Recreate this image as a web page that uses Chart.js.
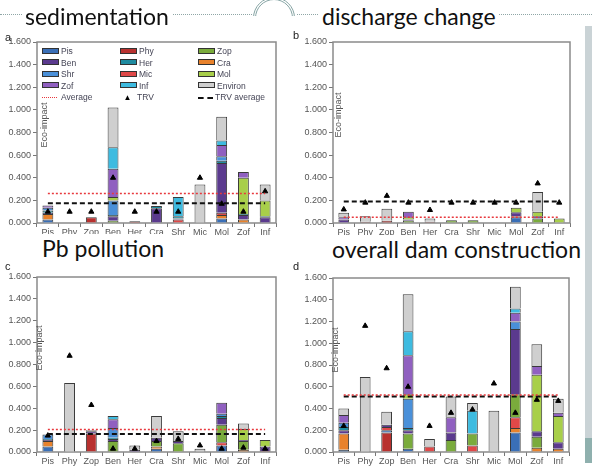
<!DOCTYPE html>
<html>
<head>
<meta charset="utf-8">
<script src="https://cdn.jsdelivr.net/npm/chart.js@4.4.0/dist/chart.umd.min.js"></script>
<style>
body { margin: 0; background: #fff; width: 592px; height: 470px; overflow: hidden; position: relative; font-family: "Liberation Sans", Arial, sans-serif; }
.box { position: absolute; }
.title { position: absolute; font-family: Lato, sans-serif; font-size: 23px; line-height: 28px; color: #111; background: #fff; padding: 0 3px; white-space: nowrap; }
.letter { position: absolute; font-size: 11px; color: #222; }
.ylab { position: absolute; width: 54px; height: 10px; line-height: 10px; text-align: center; font-size: 9px; color: #555; transform: rotate(-90deg); white-space: nowrap; }
#dots { position: absolute; left: 0; top: 14px; width: 592px; border-top: 1px dotted #8fa6a6; }
#arch { position: absolute; left: 252px; top: 0; width: 44px; height: 16px; overflow: hidden; background: #fff; }
#arch div { position: absolute; left: 1px; top: -3px; width: 36px; height: 36px; border: 3px double #86a4a4; border-radius: 50%; }
#sidebar { position: absolute; left: 585px; top: 26px; width: 7px; height: 412px; background: #cad3d6; }
#sidefoot { position: absolute; left: 585px; top: 438px; width: 7px; height: 25px; background: #8fb0ae; }
#legend { position: absolute; left: 0; top: 0; font-size: 8.5px; color: #445; }
.li { position: absolute; height: 10px; line-height: 10px; white-space: nowrap; }
.sw { display: inline-block; width: 15px; height: 4px; border: 1px solid #333; vertical-align: middle; margin-right: 2px; margin-top: -2px; }
</style>
</head>
<body>
<div id="dots"></div>
<div id="arch"><div></div></div>
<div id="sidebar"></div>
<div id="sidefoot"></div>

<div class="box" style="left:0;top:34px;width:284px;height:206px"><canvas id="chartA"></canvas></div>
<div class="box" style="left:296px;top:34px;width:282px;height:206px"><canvas id="chartB"></canvas></div>
<div class="box" style="left:0;top:268px;width:284px;height:201px"><canvas id="chartC"></canvas></div>
<div class="box" style="left:296px;top:268px;width:281px;height:201px"><canvas id="chartD"></canvas></div>

<div id="legend"></div>

<div class="title" style="left:22px;top:2px">sedimentation</div>
<div class="title" style="left:319px;top:2px">discharge change</div>
<div class="title" style="left:39px;top:234px">Pb pollution</div>
<div class="title" style="left:329px;top:235px">overall dam construction</div>

<div class="letter" style="left:5px;top:31px">a</div>
<div class="letter" style="left:293px;top:29px">b</div>
<div class="letter" style="left:5px;top:260px">c</div>
<div class="letter" style="left:293px;top:260px">d</div>

<div class="ylab" style="left:17px;top:120px">Eco-impact</div>
<div class="ylab" style="left:311px;top:110px">Eco-impact</div>
<div class="ylab" style="left:12px;top:343px">Eco-impact</div>
<div class="ylab" style="left:308px;top:345px">Eco-impact</div>

<script>
// categories on the x axis
const categories = ['Pis', 'Phy', 'Zop', 'Ben', 'Her', 'Cra', 'Shr', 'Mic', 'Mol', 'Zof', 'Inf'];
// stacked groups (rows of each panel array below, in this order)
const seriesNames = ['Pis', 'Phy', 'Zop', 'Ben', 'Her', 'Cra', 'Shr', 'Mic', 'Mol', 'Zof', 'Inf', 'Environ'];
const seriesColors = ['#3a6fb7', '#b8312f', '#7aab3c', '#5b3a8e', '#1f8ba0', '#e8822c',
                      '#4a90d9', '#e04848', '#a8cf4a', '#9060c0', '#3ebbe0', '#cfcfcf'];
// bottom -> top order used when stacking
const stackOrder = ['Phy', 'Pis', 'Cra', 'Mic', 'Zop', 'Ben', 'Her', 'Shr', 'Mol', 'Zof', 'Inf', 'Environ'];

// a - sedimentation
const sedValues = [
    [0.03, 0, 0, 0, 0, 0, 0, 0, 0.04, 0, 0],          // Pis
    [0, 0, 0.05, 0, 0.015, 0, 0, 0, 0, 0, 0],         // Phy
    [0, 0, 0, 0.02, 0, 0, 0, 0, 0, 0, 0],             // Zop
    [0.01, 0, 0, 0.04, 0, 0.13, 0.01, 0, 0.44, 0.04, 0.05], // Ben
    [0.02, 0, 0, 0.01, 0, 0.02, 0.02, 0, 0.02, 0.01, 0.01], // Her
    [0.05, 0, 0, 0, 0, 0, 0, 0, 0.03, 0.03, 0],       // Cra
    [0.025, 0, 0, 0.13, 0, 0, 0, 0, 0.04, 0, 0],      // Shr
    [0, 0, 0, 0, 0, 0, 0.03, 0, 0.02, 0, 0],          // Mic
    [0, 0, 0, 0.03, 0, 0, 0, 0, 0, 0.32, 0.14],       // Mol
    [0.02, 0, 0, 0.25, 0, 0, 0, 0, 0.1, 0.05, 0],     // Zof
    [0, 0, 0, 0.19, 0, 0, 0.17, 0, 0.04, 0, 0],       // Inf
    [0, 0, 0, 0.35, 0, 0, 0, 0.34, 0.21, 0, 0.14]     // Environ
];
const sedTRV = [0.10, 0.10, 0.10, 0.40, 0.10, 0.10, 0.10, 0.40, 0.17, 0.10, 0.28];
const sedAverage = 0.26;
const sedTRVAverage = 0.175;

// b - discharge change
const disValues = [
    [0, 0, 0, 0, 0, 0, 0, 0, 0.05, 0, 0],
    [0, 0.01, 0.02, 0, 0.01, 0, 0, 0, 0, 0, 0],
    [0, 0, 0, 0.02, 0, 0.025, 0.025, 0, 0, 0.04, 0],
    [0.03, 0, 0, 0.01, 0, 0, 0, 0, 0.035, 0.02, 0],
    [0, 0, 0, 0, 0, 0, 0, 0, 0, 0, 0],
    [0, 0, 0, 0, 0, 0, 0, 0, 0, 0, 0],
    [0, 0, 0, 0, 0, 0, 0, 0, 0, 0, 0],
    [0, 0, 0, 0, 0, 0, 0, 0, 0.01, 0, 0],
    [0, 0, 0, 0.02, 0, 0, 0, 0, 0.04, 0.04, 0.04],
    [0.02, 0, 0, 0.05, 0, 0, 0, 0, 0, 0, 0],
    [0, 0, 0, 0, 0, 0, 0, 0, 0, 0, 0],
    [0.04, 0.05, 0.105, 0, 0.03, 0, 0, 0, 0, 0.175, 0]
];
const disTRV = [0.12, 0.18, 0.24, 0.18, 0.115, 0.18, 0.18, 0.18, 0.18, 0.35, 0.18];
const disAverage = 0.05;
const disTRVAverage = 0.19;

// c - Pb pollution
const pbValues = [
    [0.05, 0, 0, 0, 0, 0.03, 0, 0, 0.06, 0, 0],
    [0, 0, 0.17, 0, 0, 0, 0, 0, 0, 0, 0.01],
    [0, 0, 0, 0.1, 0, 0.05, 0.08, 0, 0.16, 0.08, 0],
    [0.01, 0, 0.02, 0.02, 0.02, 0.03, 0.02, 0, 0.06, 0.01, 0.04],
    [0.01, 0, 0, 0.01, 0, 0, 0, 0, 0.02, 0, 0],
    [0.05, 0, 0, 0, 0, 0.02, 0, 0, 0, 0.02, 0],
    [0.04, 0, 0, 0.09, 0, 0, 0, 0, 0.02, 0, 0],
    [0, 0, 0, 0, 0, 0, 0, 0, 0.03, 0, 0],
    [0, 0, 0, 0, 0, 0, 0, 0, 0, 0.1, 0.06],
    [0, 0, 0, 0.08, 0, 0, 0, 0, 0.1, 0, 0],
    [0, 0, 0, 0.03, 0, 0, 0, 0, 0, 0, 0],
    [0, 0.63, 0.01, 0, 0.04, 0.2, 0.09, 0.03, 0, 0.05, 0]
];
const pbTRV = [0.15, 0.88, 0.43, 0.03, 0.03, 0.10, 0.12, 0.06, 0.03, 0.04, 0.03];
const pbAverage = 0.205;
const pbTRVAverage = 0.165;

// d - overall dam construction
const damValues = [
    [0.02, 0, 0.02, 0.03, 0, 0, 0, 0, 0.18, 0, 0],
    [0, 0, 0.18, 0, 0.01, 0, 0, 0, 0, 0, 0],
    [0, 0, 0, 0.14, 0, 0.11, 0.11, 0, 0.21, 0.1, 0],
    [0.03, 0, 0.02, 0.03, 0, 0.07, 0, 0, 0.6, 0.05, 0.06],
    [0.03, 0, 0, 0.02, 0, 0, 0, 0, 0, 0, 0],
    [0.15, 0, 0, 0, 0, 0, 0, 0, 0.04, 0.04, 0.03],
    [0.04, 0, 0, 0.27, 0, 0, 0, 0, 0.07, 0, 0],
    [0, 0, 0.03, 0, 0.04, 0, 0.06, 0, 0.1, 0, 0],
    [0, 0, 0, 0.04, 0, 0, 0, 0, 0, 0.52, 0.24],
    [0.07, 0, 0, 0.36, 0, 0.14, 0, 0, 0.08, 0.08, 0.03],
    [0, 0, 0, 0.22, 0, 0, 0.21, 0, 0.04, 0, 0],
    [0.06, 0.69, 0.12, 0.34, 0.07, 0.19, 0.07, 0.38, 0.2, 0.2, 0.13]
];
const damTRV = [0.24, 1.16, 0.77, 0.60, 0.24, 0.36, 0.39, 0.63, 0.36, 0.48, 0.47];
const damAverage = 0.525;
const damTRVAverage = 0.51;

// legend rows as in the figure
const legendRows = [
    ['Pis', 'Phy', 'Zop'],
    ['Ben', 'Her', 'Cra'],
    ['Shr', 'Mic', 'Mol'],
    ['Zof', 'Inf', 'Environ'],
    ['Average', 'TRV', 'TRV average']
];

const tickFont = { family: '"Liberation Sans", Arial, sans-serif', size: 9 };

// draws the grey box round the plot area
const framePlugin = {
    id: 'frame',
    beforeDatasetsDraw(chart) {
        const a = chart.chartArea;
        const ctx = chart.ctx;
        ctx.save();
        ctx.strokeStyle = '#8a8a8a';
        ctx.lineWidth = 1.5;
        ctx.strokeRect(a.left, a.top, a.right - a.left, a.bottom - a.top);
        ctx.restore();
    }
};

function makeChart(id, values, trv, avg, trvAvg, padTop) {
    let datasets = [];
    datasets.push({
        type: 'line', label: 'Average', data: categories.map(() => avg),
        borderColor: '#e8383d', borderWidth: 1.5, borderDash: [2, 2],
        pointRadius: 0, stack: 'avg', order: 0
    });
    datasets.push({
        type: 'line', label: 'TRV average', data: categories.map(() => trvAvg),
        borderColor: '#111', borderWidth: 2, borderDash: [5, 3],
        pointRadius: 0, stack: 'trvavg', order: 0
    });
    datasets.push({
        type: 'line', label: 'TRV', data: trv, showLine: false,
        pointStyle: 'triangle', pointRadius: 3,
        backgroundColor: '#000', borderColor: '#000', stack: 'trv', order: 0
    });
    stackOrder.forEach(function (name) {
        let i = seriesNames.indexOf(name);
        datasets.push({
            type: 'bar', label: name,
            data: values[i].map(v => v === 0 ? null : v),
            backgroundColor: seriesColors[i],
            borderColor: '#3a3a3a', borderWidth: 1,
            barPercentage: 0.5, categoryPercentage: 1,
            stack: 'bars', order: 1
        });
    });

    return new Chart(document.getElementById(id), {
        type: 'bar',
        data: { labels: categories, datasets: datasets },
        plugins: [framePlugin],
        options: {
            responsive: true,
            maintainAspectRatio: false,
            animation: false,
            layout: { padding: { top: padTop, right: 8, left: 0, bottom: 0 } },
            plugins: { legend: { display: false }, tooltip: { enabled: false } },
            scales: {
                x: {
                    stacked: true,
                    grid: { display: true, offset: true, drawOnChartArea: false, tickLength: 4, color: '#777' },
                    border: { display: false },
                    ticks: { font: tickFont, color: '#555', padding: 0, maxRotation: 0, autoSkip: false },
                    afterFit: function (scale) { scale.height = 17; }
                },
                y: {
                    stacked: true,
                    min: 0, max: 1.6,
                    grid: { display: true, drawOnChartArea: false, tickLength: 4, color: '#777' },
                    border: { display: false },
                    ticks: {
                        stepSize: 0.2, font: tickFont, color: '#555', padding: 2,
                        callback: function (v) { return v.toFixed(3); }
                    },
                    afterFit: function (scale) { scale.width = 37; }
                }
            }
        }
    });
}

makeChart('chartA', sedValues, sedTRV, sedAverage, sedTRVAverage, 8);
makeChart('chartB', disValues, disTRV, disAverage, disTRVAverage, 8);
makeChart('chartC', pbValues, pbTRV, pbAverage, pbTRVAverage, 9);
makeChart('chartD', damValues, damTRV, damAverage, damTRVAverage, 10);

// legend inside panel a
const legendBox = document.getElementById('legend');
const colX = [42, 120, 198];
legendRows.forEach(function (row, r) {
    row.forEach(function (name, c) {
        let item = document.createElement('div');
        item.className = 'li';
        item.style.left = colX[c] + 'px';
        item.style.top = (46 + r * 11.5) + 'px';
        let i = seriesNames.indexOf(name);
        let mark;
        if (i >= 0) {
            mark = '<span class="sw" style="background:' + seriesColors[i] + '"></span>';
        } else if (name === 'Average') {
            mark = '<span style="display:inline-block;width:15px;border-top:1.5px dotted #e8383d;vertical-align:middle;margin-right:4px"></span>';
        } else if (name === 'TRV') {
            mark = '<span style="display:inline-block;width:15px;text-align:center;font-size:8px;color:#000;margin-right:2px">&#9650;</span>';
        } else {
            mark = '<span style="display:inline-block;width:15px;border-top:2px dashed #111;vertical-align:middle;margin-right:2px"></span>';
        }
        item.innerHTML = mark + name;
        legendBox.appendChild(item);
    });
});
</script>
</body>
</html>
